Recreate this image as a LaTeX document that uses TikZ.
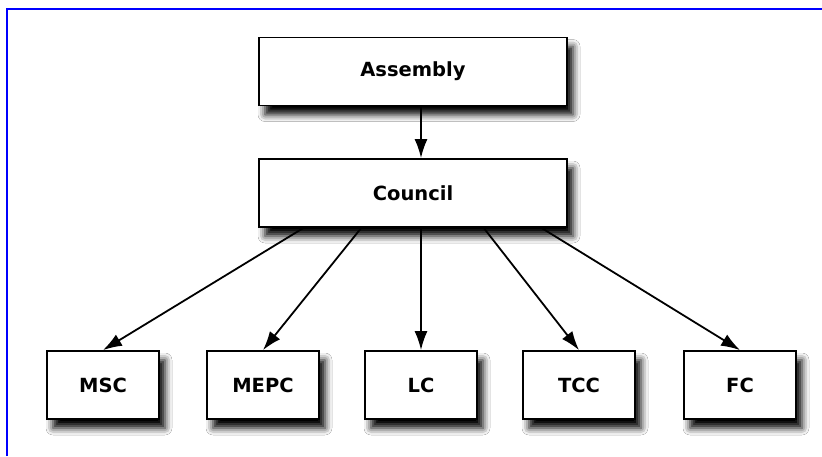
\documentclass[tikz,border=0pt]{standalone}
\usepackage{fontspec}
\setmainfont{DejaVu Sans}
\usetikzlibrary{arrows.meta,shadows.blur}
\begin{document}
\begin{tikzpicture}[x=1pt,y=-1pt,
  box/.style={draw=black,line width=1.8pt,fill=white,inner sep=0pt,
    font=\fontsize{19.5}{22}\selectfont\bfseries,
    blur shadow={shadow xshift=6pt,shadow yshift=-9pt,shadow blur radius=7pt,shadow opacity=100}},
  big/.style={box,minimum width=308pt,minimum height=68pt},
  small/.style={box,minimum width=112pt,minimum height=68pt},
  conn/.style={line width=1.8pt,-{Latex[length=19pt,width=13pt]}}]
\useasboundingbox (0,0) rectangle (822,456);
\fill[white] (0,0) rectangle (822,456);
\draw[blue,line width=2.5pt] (7,456) -- (7,9) -- (822,9);
\node[big] (asm) at (413,71.5) {Assembly};
\node[big] (cou) at (413,193) {Council};
\node[small] (msc) at (103,385) {MSC};
\node[small] (mepc) at (263,385) {MEPC};
\node[small] (lc) at (421,385) {LC};
\node[small] (tcc) at (579,385) {TCC};
\node[small] (fc) at (740,385) {FC};
\coordinate (c1) at (305,227);
\coordinate (c2) at (362,227);
\coordinate (c3) at (421,227);
\coordinate (c4) at (483,227);
\coordinate (c5) at (540,227);
\draw[conn] (asm.south -| c3) -- (cou.north -| c3);
\draw[conn] (c1) -- (msc.north);
\draw[conn] (c2) -- (mepc.north);
\draw[conn] (c3) -- (lc.north);
\draw[conn] (c4) -- (tcc.north);
\draw[conn] (c5) -- (fc.north);
\end{tikzpicture}
\end{document}
